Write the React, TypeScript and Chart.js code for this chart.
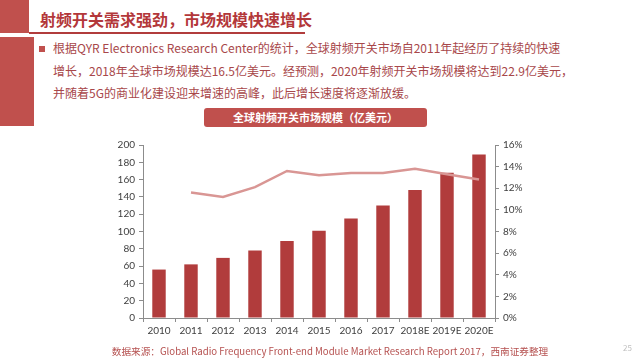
import React, { useEffect, useRef } from "react";
import { Chart, registerables } from "chart.js";

Chart.register(...registerables);

const categories = ["2010", "2011", "2012", "2013", "2014", "2015", "2016", "2017", "2018E", "2019E", "2020E"];
const marketSize = [56, 62, 69.5, 78, 89, 101, 115, 130, 148, 168, 189];
const growthRate = [null, 11.6, 11.2, 12.1, 13.6, 13.2, 13.4, 13.4, 13.8, 13.3, 12.8];
const leftTicks = [0, 20, 40, 60, 80, 100, 120, 140, 160, 180, 200];
const rightTicks = [0, 2, 4, 6, 8, 10, 12, 14, 16];

const FONT = '"Noto Sans CJK SC", "Noto Sans", sans-serif';
const TICK_FONT = 'Lato, "Noto Sans", sans-serif';

export default function App() {
  const ref = useRef<HTMLCanvasElement | null>(null);

  useEffect(() => {
    document.body.style.margin = "0";
    const canvas = ref.current;
    if (!canvas) return;
    const chart = new Chart(canvas, {
      type: "bar",
      data: {
        labels: categories,
        datasets: [
          {
            type: "line",
            label: "增速",
            data: growthRate as any,
            yAxisID: "y1",
            borderColor: "#d99694",
            backgroundColor: "#d99694",
            borderWidth: 2.5,
            pointRadius: 0,
            tension: 0,
            order: 0,
          } as any,
          {
            type: "bar",
            label: "市场规模",
            data: marketSize,
            yAxisID: "y",
            backgroundColor: "#b13c3c",
            barPercentage: 0.42,
            categoryPercentage: 1,
            order: 1,
          },
        ],
      },
      options: {
        animation: false,
        responsive: false,
        maintainAspectRatio: false,
        layout: { padding: { left: 100, right: 100, top: 145, bottom: 18 } },
        plugins: { legend: { display: false }, tooltip: { enabled: false } },
        scales: {
          x: {
            grid: { display: true, drawOnChartArea: false, drawTicks: true, tickLength: 4, color: "#8c8c8c", offset: true },
            border: { display: true, color: "#8c8c8c" },
            ticks: { color: "#404040", font: { family: TICK_FONT, size: 10 }, padding: 3, maxRotation: 0, autoSkip: false },
            afterFit: (s: any) => { s.height = 24; },
          },
          y: {
            position: "left",
            min: 0,
            max: 200,
            afterBuildTicks: (s: any) => { s.ticks = leftTicks.map((v) => ({ value: v })); },
            grid: { display: true, drawOnChartArea: false, drawTicks: true, tickLength: 4, color: "#8c8c8c" },
            border: { display: true, color: "#8c8c8c" },
            ticks: { color: "#404040", font: { family: TICK_FONT, size: 10 }, padding: 4 },
            afterFit: (s: any) => { s.width = 43; },
          },
          y1: {
            position: "right",
            min: 0,
            max: 16,
            afterBuildTicks: (s: any) => { s.ticks = rightTicks.map((v) => ({ value: v })); },
            grid: { display: true, drawOnChartArea: false, drawTicks: true, tickLength: 4, color: "#8c8c8c" },
            border: { display: true, color: "#8c8c8c" },
            ticks: { color: "#404040", font: { family: TICK_FONT, size: 10 }, padding: 4, callback: (v: any) => v + "%" },
            afterFit: (s: any) => { s.width = 45; },
          },
        },
      },
    });
    return () => chart.destroy();
  }, []);

  const bulletLine: React.CSSProperties = {
    position: "absolute",
    left: 53,
    fontFamily: FONT,
    fontSize: 12,
    lineHeight: "16px",
    color: "#a8474a",
    whiteSpace: "nowrap",
  };

  return (
    <div style={{ position: "fixed", left: 0, top: 0, width: 640, height: 360, background: "#fff", overflow: "hidden" }}>
      <div style={{ position: "absolute", left: 0, top: 0, width: 29, height: 33, background: "#c0504d" }} />
      <div style={{ position: "absolute", left: 0, top: 37, width: 34, height: 89, background: "#c0504d" }} />
      <div style={{ position: "absolute", left: 29, top: 32, width: 276, height: 1.5, background: "#b13c3c" }} />
      <div style={{ position: "absolute", left: 40, top: 8, fontFamily: FONT, fontWeight: 700, fontSize: 16, lineHeight: "22px", color: "#b3373a", whiteSpace: "nowrap" }}>
        射频开关需求强劲，市场规模快速增长
      </div>
      <div style={{ position: "absolute", left: 39, top: 46, width: 6, height: 6, background: "#c0504d" }} />
      <div style={{ ...bulletLine, top: 40 }}>根据QYR Electronics Research Center的统计，全球射频开关市场自2011年起经历了持续的快速</div>
      <div style={{ ...bulletLine, top: 63 }}>增长，2018年全球市场规模达16.5亿美元。经预测，2020年射频开关市场规模将达到22.9亿美元，</div>
      <div style={{ ...bulletLine, top: 85 }}>并随着5G的商业化建设迎来增速的高峰，此后增长速度将逐渐放缓。</div>
      <div style={{ position: "absolute", left: 204, top: 108, width: 223, height: 19, background: "#c0504d", borderRadius: 3, color: "#fff", fontFamily: FONT, fontWeight: 700, fontSize: 11, lineHeight: "19px", textAlign: "center" }}>
        全球射频开关市场规模（亿美元）
      </div>
      <canvas ref={ref} width={640} height={360} style={{ position: "absolute", left: 0, top: 0, width: 640, height: 360 }} />
      <div style={{ position: "absolute", left: 0, width: 660, top: 343, textAlign: "center", fontFamily: FONT, fontSize: 9.65, lineHeight: "16px", color: "#b5504f", whiteSpace: "nowrap" }}>
        数据来源：Global Radio Frequency Front-end Module Market Research Report 2017，西南证券整理
      </div>
      <div style={{ position: "absolute", left: 623, top: 342, fontFamily: FONT, fontSize: 8, color: "#c0c0c0" }}>25</div>
    </div>
  );
}
